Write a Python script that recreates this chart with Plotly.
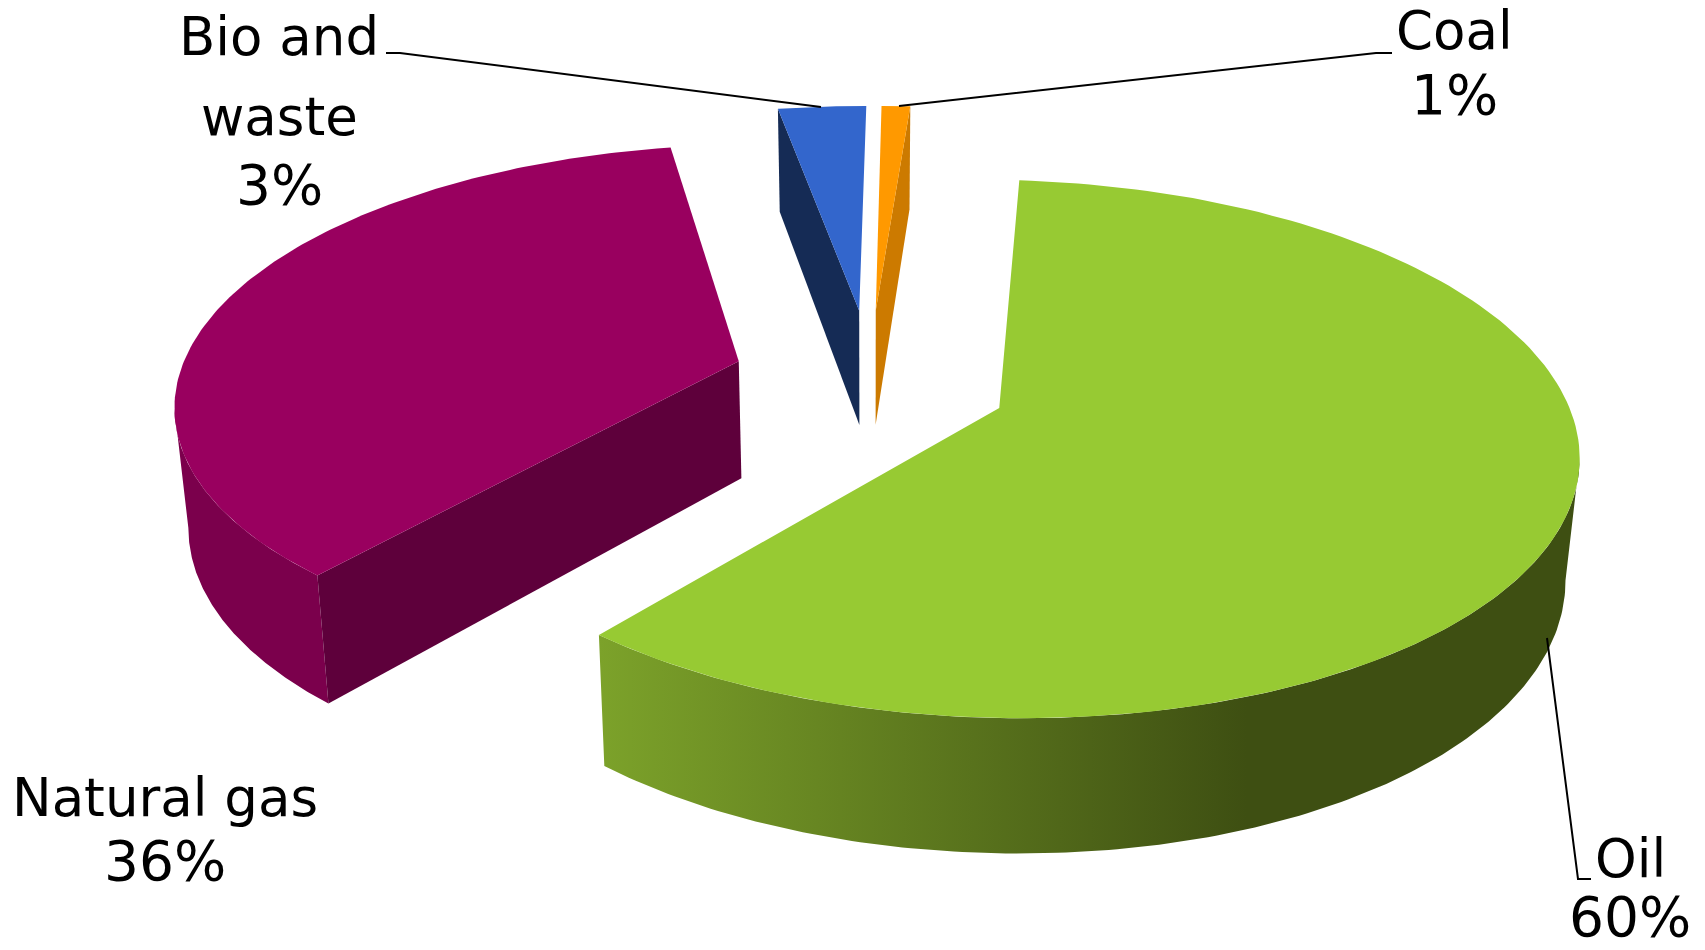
import numpy as np
import plotly.graph_objects as go

# Shares in clockwise order, starting from twelve o'clock
categories = ["Coal", "Oil", "Natural gas", "Bio and waste"]
shares = [1, 60, 36, 3]

top_colors = ["#FF9900", "#97CA33", "#99005F", "#3366CC"]
cut_colors = ["#CC7A00", None, "#5E003B", "#152B55"]

# Pie geometry and viewing parameters, in page pixels
CX, CY = 870, 380
RX, RY = 561, 254.5
THICK = 118
PERSP = 0.15
THICK_PERSP = 0.115
X_SHRINK = 0.98
EXPLODE_X, EXPLODE_Y = 0.245, 0.285
START = 0.7

W, H = 1705, 950


def project(x, y, base=False):
    w = 1 + PERSP * y
    sx = CX + RX * x / w
    sy = CY - RY * y / w
    if base:
        sx = CX + (sx - CX) * X_SHRINK
        sy = sy + THICK / (1 + THICK_PERSP * y)
    return sx, sy


def rim(a0, a1, off, base=False, n=160):
    t = np.radians(np.linspace(a0, a1, n))
    return project(off[0] + np.sin(t), off[1] + np.cos(t), base)


def apex(off, base=False):
    return project(np.array([off[0]]), np.array([off[1]]), base)


def poly(fig, xs, ys, color=None, gradient=None):
    kw = dict(fillgradient=gradient) if gradient else dict(fillcolor=color)
    fig.add_trace(go.Scatter(x=xs, y=ys, mode="lines", fill="toself",
                             line=dict(width=0), hoverinfo="skip", showlegend=False, **kw))


fig = go.Figure()

edges = START + np.concatenate([[0], np.cumsum(shares)]) * 3.6
offsets = []
for a0, a1 in zip(edges[:-1], edges[1:]):
    mid = np.radians((a0 + a1) / 2)
    offsets.append((EXPLODE_X * np.sin(mid), EXPLODE_Y * np.cos(mid)))

# Far wedges first, then the two large ones
for i in [0, 3, 2, 1]:
    a0, a1 = edges[i], edges[i + 1]
    off = offsets[i]
    tx, ty = rim(a0, a1, off)
    bx, by = rim(a0, a1, off, base=True)
    ax, ay = apex(off)
    abx, aby = apex(off, base=True)

    # outer wall, limited to the part that faces the viewer
    sweep = np.linspace(a0, a1, 160)
    if categories[i] == "Oil":
        j = int(np.argmax(tx))
        px, py = rim(sweep[j], a1, off)
        qx, qy = rim(sweep[j], a1, off, base=True)
        wx = np.concatenate([px, qx[::-1]])
        wy = np.concatenate([py, qy[::-1]])
        lo, hi = wx.min(), wx.max()
        knee = (1247 - lo) / (hi - lo)
        poly(fig, wx, wy, gradient=dict(
            type="horizontal",
            colorscale=[[0, "#7CA22A"], [knee, "#3E4F12"], [1, "#3E4F12"]]))
    elif categories[i] == "Natural gas":
        j = int(np.argmin(tx))
        px, py = rim(a0, sweep[j], off)
        qx, qy = rim(a0, sweep[j], off, base=True)
        poly(fig, np.concatenate([px, qx[::-1]]), np.concatenate([py, qy[::-1]]), color="#7B004C")

    # cut face that turns towards the viewer
    if cut_colors[i]:
        k = {"Coal": -1, "Natural gas": 0, "Bio and waste": 0}[categories[i]]
        fx = [ax[0], tx[k], bx[k], abx[0]]
        fy = [ay[0], ty[k], by[k], aby[0]]
        poly(fig, fx, fy, color=cut_colors[i])

    # top face
    poly(fig, np.concatenate([ax, tx]), np.concatenate([ay, ty]), color=top_colors[i])

# Leader lines
leaders = [
    ([386, 400, 821], [53, 53, 107]),
    ([1392, 1376, 899], [53, 53, 106]),
    ([1547, 1578, 1591], [638, 879, 879]),
]
for lx, ly in leaders:
    fig.add_trace(go.Scatter(x=lx, y=ly, mode="lines", line=dict(color="black", width=2),
                             hoverinfo="skip", showlegend=False))

# Labels: text line, centre x, centre y, font size
label_lines = [
    ("Coal", 1454, 30, 53),
    (f"{shares[0]}%", 1454, 95, 55),
    ("Bio and", 279, 36, 53),
    ("waste", 279, 116, 53),
    (f"{shares[3]}%", 279, 185, 55),
    ("Natural gas", 165, 797, 53),
    (f"{shares[2]}%", 165, 861, 55),
    ("Oil", 1630, 858, 53),
    (f"{shares[1]}%", 1630, 917, 55),
]
for text, x, y, size in label_lines:
    fig.add_annotation(x=x, y=y, text=text, showarrow=False, xanchor="center", yanchor="middle",
                       font=dict(family="DejaVu Sans", size=size, color="black"))

fig.update_layout(
    width=W, height=H, margin=dict(l=0, r=0, t=0, b=0),
    paper_bgcolor="white", plot_bgcolor="white", showlegend=False,
    xaxis=dict(range=[0, W], visible=False, fixedrange=True),
    yaxis=dict(range=[H, 0], visible=False, fixedrange=True),
)
fig.write_html("out.html", config=dict(displayModeBar=False))
